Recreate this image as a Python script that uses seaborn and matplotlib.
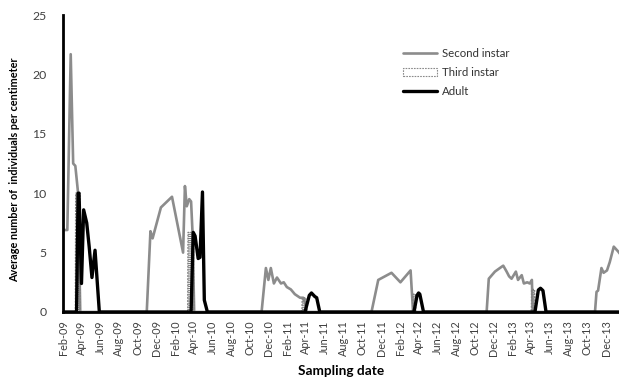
import matplotlib
matplotlib.use("Agg")
import matplotlib.pyplot as plt
import matplotlib.dates as mdates
from matplotlib.patches import Patch
from matplotlib.lines import Line2D
import seaborn as sns
import pandas as pd

# ---------------- data ----------------
second_dates = [
    "2009-02-01", "2009-02-15", "2009-02-26", "2009-03-06", "2009-03-13", "2009-03-22", "2009-03-29",
    "2009-10-31", "2009-11-12", "2009-11-19", "2009-12-16", "2010-01-21", "2010-02-26", "2010-03-04",
    "2010-03-10", "2010-03-18", "2010-03-24", "2010-03-29", "2010-04-03",
    "2010-11-08", "2010-11-22", "2010-11-30", "2010-12-08", "2010-12-18", "2010-12-28", "2011-01-10",
    "2011-01-19", "2011-01-29", "2011-02-11", "2011-02-24", "2011-03-13", "2011-03-23", "2011-03-29",
    "2011-04-04",
    "2011-10-31", "2011-11-22", "2012-01-04", "2012-02-02", "2012-03-06", "2012-03-14",
    "2012-11-08", "2012-11-15", "2012-12-05", "2012-12-21", "2013-01-01", "2013-01-12", "2013-01-20",
    "2013-01-28", "2013-02-11", "2013-02-18", "2013-03-02", "2013-03-09", "2013-03-20", "2013-03-28",
    "2013-04-04", "2013-04-07",
    "2013-10-26", "2013-10-31", "2013-11-05", "2013-11-16", "2013-11-23", "2013-12-04", "2013-12-13",
    "2013-12-26", "2014-01-09", "2014-01-15",
]
second_vals = [
    6.9, 6.9, 21.7, 12.5, 12.3, 10.0, 0.0,
    0.0, 6.8, 6.2, 8.8, 9.7, 5.0, 10.6,
    8.9, 9.5, 9.3, 6.5, 0.0,
    0.0, 3.7, 2.7, 3.7, 2.4, 2.9, 2.4,
    2.5, 2.1, 1.9, 1.5, 1.2, 1.2, 0.8,
    0.0,
    0.0, 2.7, 3.3, 2.5, 3.5, 0.0,
    0.0, 2.8, 3.4, 3.7, 3.9, 3.4, 3.0,
    2.8, 3.4, 2.7, 3.1, 2.4, 2.5, 2.4,
    2.7, 0.0,
    0.0, 1.7, 1.8, 3.7, 3.3, 3.5, 4.2,
    5.5, 5.1, 4.9,
]

third_dates = [
    "2009-03-13", "2009-03-14", "2009-03-28", "2009-03-29",
    "2010-03-13", "2010-03-14", "2010-04-01", "2010-04-02",
    "2011-03-19", "2011-03-20", "2011-04-01", "2011-04-02",
    "2012-03-13", "2012-03-14", "2012-03-22", "2012-03-23",
    "2013-04-02", "2013-04-03", "2013-04-13", "2013-04-14",
]
third_vals = [
    0, 10.0, 10.0, 0,
    0, 6.7, 6.7, 0,
    0, 1.2, 1.2, 0,
    0, 1.5, 1.5, 0,
    0, 1.9, 1.9, 0,
]

adult_dates = [
    "2009-02-01", "2009-03-17", "2009-03-22", "2009-03-25", "2009-04-02", "2009-04-09", "2009-04-19",
    "2009-04-27", "2009-05-06", "2009-05-16", "2009-05-30",
    "2010-03-24", "2010-03-31", "2010-04-06", "2010-04-16", "2010-04-22", "2010-04-30", "2010-05-06",
    "2010-05-16",
    "2011-03-29", "2011-04-12", "2011-04-19", "2011-04-30", "2011-05-06", "2011-05-16",
    "2012-03-17", "2012-03-27", "2012-04-01", "2012-04-05", "2012-04-17",
    "2013-04-14", "2013-04-25", "2013-05-02", "2013-05-10", "2013-05-20",
    "2014-01-15",
]
adult_vals = [
    0.0, 0.0, 10.0, 10.0, 2.4, 8.6, 7.5,
    5.5, 2.9, 5.2, 0.0,
    0.0, 6.7, 6.4, 4.5, 4.6, 10.1, 1.0,
    0.0,
    0.0, 1.4, 1.6, 1.3, 1.2, 0.0,
    0.0, 1.4, 1.6, 1.5, 0.0,
    0.0, 1.85, 2.0, 1.8, 0.0,
    0.0,
]

series_labels = ["Second instar", "Third instar", "Adult"]
y_ticks = [0, 5, 10, 15, 20, 25]

# ---------------- plotting ----------------
sns.set_style("white")
plt.rcParams["font.family"] = ["Lato", "DejaVu Sans"]
plt.rcParams["hatch.linewidth"] = 0.8
plt.rcParams["hatch.color"] = "#8a8a8a"

second = pd.DataFrame({"date": pd.to_datetime(second_dates), "value": second_vals})
third = pd.DataFrame({"date": pd.to_datetime(third_dates), "value": third_vals})
adult = pd.DataFrame({"date": pd.to_datetime(adult_dates), "value": adult_vals})

fig = plt.figure(figsize=(6.19, 3.79), dpi=100)
ax = fig.add_axes([0.1018, 0.1768, 0.8982, 0.7836])

gray = "#8c8c8c"
sns.lineplot(data=second, x="date", y="value", ax=ax, color=gray, linewidth=1.9,
             sort=False, estimator=None, zorder=2)
ax.fill_between(third["date"], third["value"], 0, facecolor="none", edgecolor="#808080",
                hatch="--------", linewidth=0.9, linestyle=(0, (1.5, 1.0)), zorder=3)
sns.lineplot(data=adult, x="date", y="value", ax=ax, color="black", linewidth=2.4,
             sort=False, estimator=None, zorder=4)

ax.set_xlim(pd.Timestamp("2009-02-01"), pd.Timestamp("2014-01-12"))
ax.set_ylim(0, 25)
ax.set_yticks(y_ticks)
ax.xaxis.set_major_locator(mdates.MonthLocator(bymonth=[2, 4, 6, 8, 10, 12]))
ax.xaxis.set_major_formatter(mdates.DateFormatter("%b-%y"))

for s in ["top", "right"]:
    ax.spines[s].set_visible(False)
for s in ["left", "bottom"]:
    ax.spines[s].set_color("black")
    ax.spines[s].set_linewidth(2.0)
    ax.spines[s].set_zorder(5)

ax.tick_params(axis="x", direction="out", length=4, width=1.5, color="black",
               labelrotation=90, labelsize=7.8, labelcolor="#404040", pad=2)
ax.tick_params(axis="y", length=0, labelsize=8.8, labelcolor="#404040", pad=12)

ax.set_xlabel("Sampling date", fontsize=9.8, fontweight="bold", color="black", labelpad=6)
ax.set_ylabel("Average number of  individuals per centimeter", fontsize=7.8,
              fontweight="bold", color="black", labelpad=4)
ax.yaxis.set_label_coords(-0.078, 0.48)

handles = [
    Line2D([0], [0], color=gray, linewidth=1.9),
    Patch(facecolor="white", edgecolor="#8a8a8a", linestyle=(0, (1.5, 1.0)), linewidth=0.8),
    Line2D([0], [0], color="black", linewidth=2.4),
]
leg = fig.legend(handles, series_labels, loc="upper left", bbox_to_anchor=(0.635, 0.9),
                 frameon=False, fontsize=8.2, handlelength=3.0, handletextpad=0.4,
                 labelspacing=0.7, labelcolor="#333333")

fig.savefig("out.png", dpi=100)
